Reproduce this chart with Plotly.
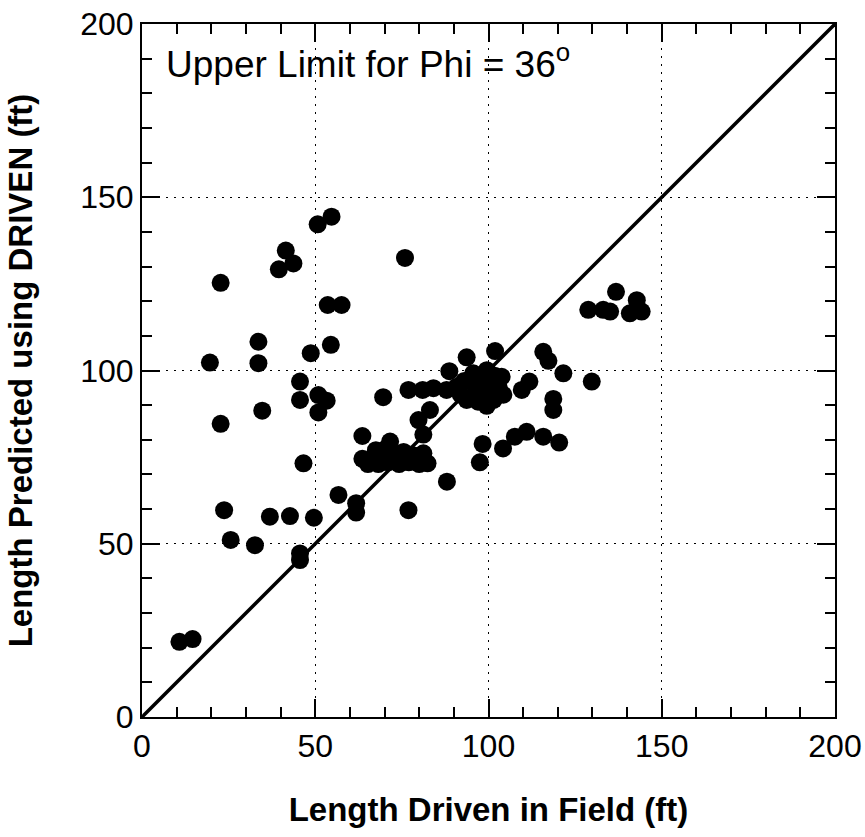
import plotly.graph_objects as go

# Length driven in field (ft)
driven = [10.8, 14.6, 19.6, 22.7, 22.7, 23.7, 25.6, 32.6, 33.6, 33.6, 34.7, 36.9,
          39.5, 41.5, 43.7, 42.7, 45.6, 45.6, 46.6, 45.6, 45.6, 48.7, 49.6, 50.7,
          54.7, 50.9, 53.3, 50.9, 53.6, 57.6, 54.5, 56.7, 61.8, 61.8, 63.6, 69.6,
          75.9, 76.9, 88.0,
          63.6, 65.2, 66.8, 68.2, 69.5, 71.0, 71.6, 72.8, 74.2, 75.5, 77.0, 78.5,
          80.0, 81.2, 82.4, 70.5, 67.5,
          79.8, 81.2, 83.1, 76.9, 81.0, 84.1, 87.9, 88.7, 90.8, 93.7, 101.9,
          92.0, 93.0, 95.0, 95.6, 96.5, 97.0, 98.0, 99.5, 99.5, 99.5, 100.5, 101.5,
          101.8, 103.0, 103.8, 104.3, 93.7,
          98.3, 97.5, 104.2, 107.6, 111.0, 115.8, 120.4, 109.6, 111.8, 115.8, 117.3,
          118.7, 118.7, 121.6, 129.8, 128.8, 133.1, 135.1, 136.8, 142.8, 140.8, 144.2]

# Length predicted using DRIVEN (ft)
predicted = [21.7, 22.5, 102.3, 125.3, 84.6, 59.7, 51.1, 49.6, 108.3, 102.1, 88.4, 57.8,
             129.2, 134.6, 130.9, 58.0, 96.8, 91.5, 73.2, 47.2, 45.3, 105.0, 57.5, 142.2,
             144.4, 92.9, 91.3, 87.9, 118.9, 118.9, 107.4, 64.1, 61.7, 59.0, 81.1, 92.3,
             132.5, 59.7, 67.9,
             74.5, 73.0, 75.0, 73.0, 76.0, 73.5, 79.5, 75.5, 73.0, 76.5, 73.5, 75.5,
             73.0, 76.1, 73.2, 77.5, 77.0,
             85.7, 81.5, 88.6, 94.4, 94.4, 94.9, 94.4, 99.8, 95.3, 103.8, 105.6,
             93.0, 97.0, 92.0, 99.2, 95.0, 91.0, 97.5, 100.1, 93.5, 89.8, 96.0, 91.5,
             98.5, 95.0, 98.2, 93.0, 91.5,
             78.8, 73.5, 77.5, 80.9, 82.3, 80.9, 79.2, 94.4, 96.8, 105.4, 102.8,
             91.8, 88.6, 99.2, 96.8, 117.5, 117.5, 117.0, 122.7, 120.3, 116.5, 117.0]

line_x = [0, 200]
line_y = [0, 200]

FONT = "Liberation Sans, Arial, sans-serif"

fig = go.Figure()
fig.add_trace(go.Scatter(x=line_x, y=line_y, mode="lines",
                         line=dict(color="black", width=3.5),
                         hoverinfo="skip", showlegend=False))
fig.add_trace(go.Scatter(x=driven, y=predicted, mode="markers",
                         marker=dict(color="black", size=18, line=dict(width=0)),
                         showlegend=False))

axis_common = dict(
    range=[0, 200], dtick=50, tick0=0, automargin=False,
    showline=True, linecolor="black", linewidth=2, mirror="allticks",
    ticks="inside", ticklen=18, tickwidth=2, tickcolor="black",
    showgrid=True, gridcolor="black", gridwidth=1.2, griddash="2px,6px",
    zeroline=False,
    tickfont=dict(family=FONT, size=32, color="black"),
    minor=dict(ticks="inside", ticklen=10, tickwidth=1.5, tickcolor="black",
               dtick=10, showgrid=False),
)

fig.update_layout(
    width=865, height=837,
    margin=dict(l=142, r=30, t=24, b=120),
    paper_bgcolor="white", plot_bgcolor="white",
    xaxis=dict(**axis_common,
               title=dict(text="<b>Length Driven in Field (ft)</b>",
                          font=dict(family=FONT, size=33, color="black"),
                          standoff=34)),
    yaxis=dict(**axis_common,
               title=dict(text="<b>Length Predicted using DRIVEN (ft)</b>",
                          font=dict(family=FONT, size=33, color="black"),
                          standoff=38)),
    annotations=[dict(x=6.4, y=196.5, xref="x", yref="y",
                      xanchor="left", yanchor="top", showarrow=False,
                      text="Upper Limit for Phi = 36<sup>o</sup>",
                      font=dict(family=FONT, size=37, color="black"))],
)

fig.write_html("out.html")
